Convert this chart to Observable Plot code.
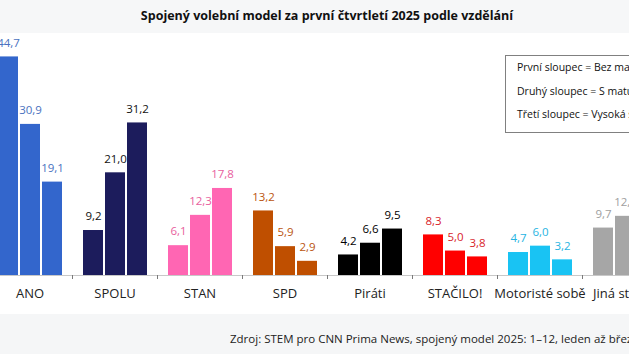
<!DOCTYPE html>
<html>
<head>
<meta charset="utf-8">
<script src="https://cdn.jsdelivr.net/npm/d3@7"></script>
<script src="https://cdn.jsdelivr.net/npm/@observablehq/plot@0.6"></script>
<style>
  html, body { margin: 0; padding: 0; background: #fff; }
  #page { position: relative; width: 629px; height: 354px; overflow: hidden; font-family: "Open Sans", "Noto Sans", sans-serif; color: #222; }
  #wrap { position: absolute; left: -13px; top: 0; width: 680px; height: 354px; }
  #title { height: 33px; line-height: 31px; background: #f6f7f8; text-align: center; font-weight: 700; font-size: 12.5px; color: #111; }
  #chart svg { display: block; max-width: none; }
  #footer { position: absolute; left: 0; top: 314px; width: 680px; height: 40px; background: #f5f6f7; }
  #footer span { position: absolute; left: 243px; top: 17px; font-size: 11.5px; white-space: nowrap; color: #222; }
  #legend { position: absolute; left: 518px; top: 55px; width: 150px; height: 76px; border: 1px solid #808080; background: #fff; font-size: 10.5px; color: #111; }
  #legend div { position: absolute; left: 11px; white-space: nowrap; }
</style>
</head>
<body>
<div id="page">
  <div id="wrap">
    <div id="title"></div>
    <div id="chart"></div>
    <div id="legend"></div>
    <div id="footer"><span></span></div>
  </div>
</div>
<script>
const titleText = "Spojený volební model za první čtvrtletí 2025 podle vzdělání";
const sourceText = "Zdroj: STEM pro CNN Prima News, spojený model 2025: 1–12, leden až březen 2025";
const parties = ["ANO", "SPOLU", "STAN", "SPD", "Piráti", "STAČILO!", "Motoristé sobě", "Jiná strana"];
const seriesNames = ["Bez maturity", "S maturitou", "Vysoká škola"];
const legendLines = ["První sloupec = Bez maturity", "Druhý sloupec = S maturitou", "Třetí sloupec = Vysoká škola"];
const bezMaturity = [44.7, 9.2, 6.1, 13.2, 4.2, 8.3, 4.7, 9.7];
const sMaturitou  = [30.9, 21.0, 12.3, 5.9, 6.6, 5.0, 6.0, 12.1];
const vysokaSkola = [19.1, 31.2, 17.8, 2.9, 9.5, 3.8, 3.2, 10.5];
const barColors   = ["#3366cc", "#1c1c5c", "#ff66b3", "#bf4f00", "#000000", "#ff0000", "#19c3f3", "#a6a6a6"];
const labelColors = ["#4a72c0", "#111111", "#e8609e", "#bb5510", "#000000", "#d8232a", "#27b4e2", "#a0a0a0"];

document.getElementById("title").textContent = titleText;
document.querySelector("#footer span").textContent = sourceText;
const leg = document.getElementById("legend");
legendLines.forEach((t, i) => {
  const d = document.createElement("div");
  d.textContent = t;
  d.style.top = (4 + i * 23.5) + "px";
  leg.appendChild(d);
});

const seriesValues = [bezMaturity, sMaturitou, vysokaSkola];
const data = [];
parties.forEach((p, i) => {
  seriesValues.forEach((vals, j) => {
    data.push({party: p, series: seriesNames[j], value: vals[i], fill: barColors[i], lab: labelColors[i]});
  });
});

const W = 680;
const bw = W / parties.length;
const fmt = v => v.toFixed(1).replace(".", ",");

const chart = Plot.plot({
  width: W,
  height: 281,
  marginLeft: 0,
  marginRight: 0,
  marginTop: 20,
  marginBottom: 39,
  style: {fontFamily: "'Open Sans', 'Noto Sans', sans-serif", background: "transparent", overflow: "visible"},
  fx: {domain: parties, padding: 0, label: null},
  x: {domain: seriesNames, paddingInner: 0.1, paddingOuter: 0.4, axis: null},
  y: {domain: [0, 45.4], axis: null},
  marks: [
    Plot.barY(data, {fx: "party", x: "series", y: "value", fill: d => d.fill}),
    Plot.ruleY([0], {stroke: "#c8c8c8", strokeWidth: 1}),
    Plot.text(data, {fx: "party", x: "series", y: "value", text: d => fmt(d.value), fill: d => d.lab, dy: -14, fontSize: 11.5}),
    Plot.axisFx({anchor: "bottom", tickSize: 4, tickFormat: () => "", dx: -bw / 2, stroke: "#7a7a7a", label: null}),
    Plot.axisFx({anchor: "bottom", tickSize: 0, tickPadding: 13, fontSize: 13, fill: "#222", label: null})
  ]
});
document.getElementById("chart").appendChild(chart);
</script>
</body>
</html>
